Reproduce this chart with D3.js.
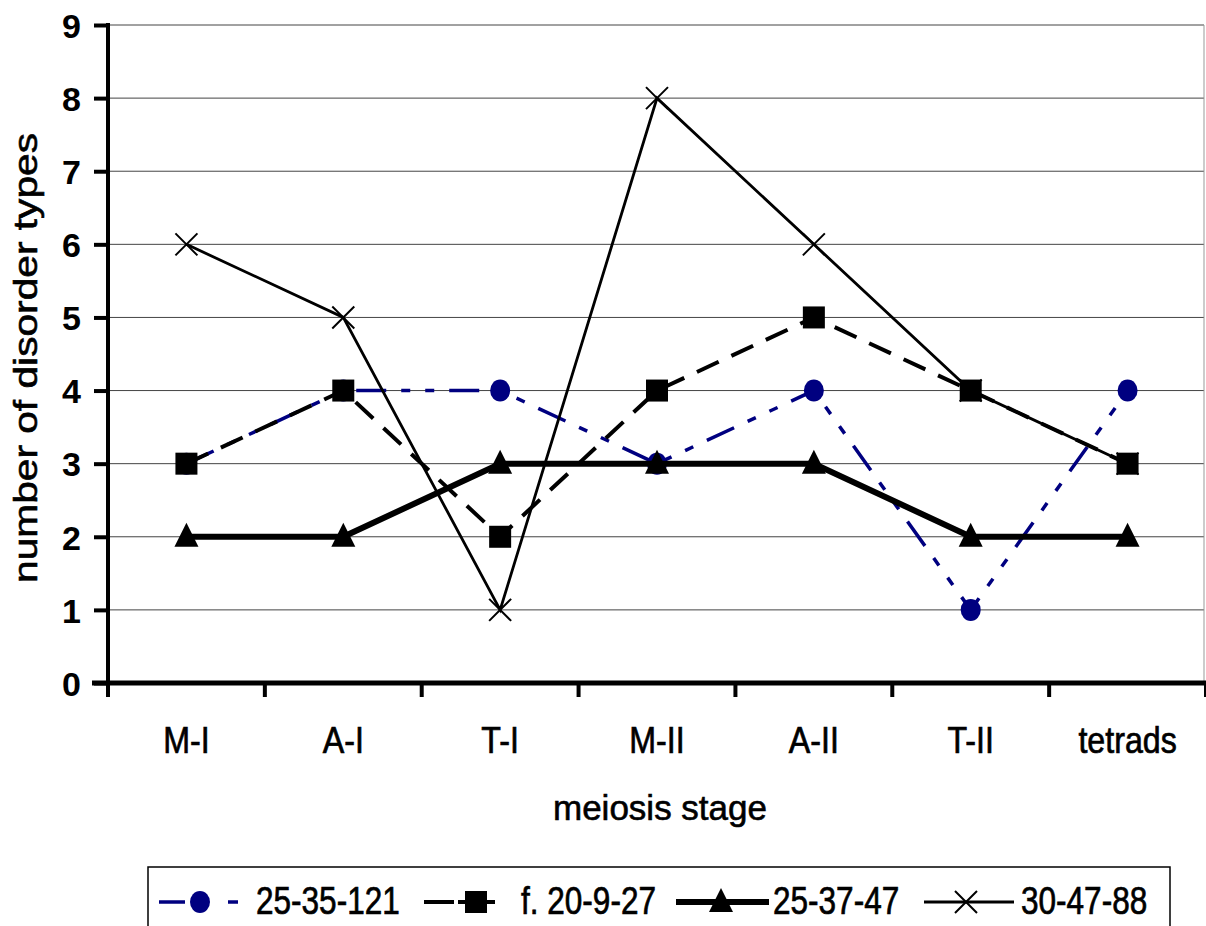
<!DOCTYPE html>
<html>
<head>
<meta charset="utf-8">
<script src="https://cdn.jsdelivr.net/npm/d3@7"></script>
<style>
body { margin: 0; background: #fff; }
</style>
</head>
<body>
<script>
var stages = ['M-I', 'A-I', 'T-I', 'M-II', 'A-II', 'T-II', 'tetrads'];
var s1 = [3, 4, 4, 3, 4, 1, 4];   // 25-35-121
var s2 = [3, 4, 2, 4, 5, 4, 3];   // f. 20-9-27
var s3 = [2, 2, 3, 3, 3, 2, 2];   // 25-37-47
var s4 = [6, 5, 1, 8, 6, 4, 3];   // 30-47-88
var names = ['25-35-121', 'f. 20-9-27', '25-37-47', '30-47-88'];
var yTicks = [0, 1, 2, 3, 4, 5, 6, 7, 8, 9];

var sans = '"Liberation Sans", Arial, sans-serif';

var svg = d3.select('body').append('svg')
  .attr('width', 1206)
  .attr('height', 926);

var pLeft = 108, pRight = 1206, pTop = 25, pBottom = 683;

var x = d3.scaleBand().domain(stages).range([pLeft, pRight]);
var y = d3.scaleLinear().domain([0, 9]).range([pBottom, pTop]);
var cx = function(i) { return x(stages[i]) + x.bandwidth() / 2; };

// gridlines
svg.append('g').selectAll('line').data(yTicks.slice(1)).enter().append('line')
  .attr('x1', pLeft).attr('x2', pRight - 2)
  .attr('y1', function(d) { return y(d); })
  .attr('y2', function(d) { return y(d); })
  .attr('stroke', '#444')
  .attr('stroke-width', 1);

svg.append('line')
  .attr('x1', pRight - 2).attr('x2', pRight - 2)
  .attr('y1', pTop).attr('y2', pBottom)
  .attr('stroke', '#999').attr('stroke-width', 1);

// axes
var yAxis = svg.append('g')
  .attr('transform', 'translate(' + pLeft + ',0)')
  .call(d3.axisLeft(y).tickValues(yTicks).tickSize(14).tickPadding(13).tickFormat(d3.format('d')));
yAxis.select('.domain').attr('stroke-width', 4).attr('d', 'M0,' + (pTop - 2) + 'V' + (pBottom + 2));
yAxis.selectAll('.tick line').attr('stroke-width', 4);
yAxis.selectAll('text').attr('font-family', sans).attr('font-weight', 'bold').attr('font-size', 34).attr('fill', '#000').attr('dy', '0.36em');

var xAxis = svg.append('g')
  .attr('transform', 'translate(0,' + pBottom + ')')
  .call(d3.axisBottom(x).tickSize(0).tickFormat(''));
xAxis.select('.domain').attr('stroke-width', 5).attr('d', 'M' + (pLeft - 16) + ',0H' + pRight);

// x labels, condensed like Arial Narrow
svg.append('g').selectAll('text').data(stages).enter().append('text')
  .attr('transform', function(d, i) { return 'translate(' + cx(i) + ',753) scale(0.87,1)'; })
  .attr('text-anchor', 'middle')
  .attr('font-family', sans).attr('font-size', 37)
  .attr('stroke', '#000').attr('stroke-width', 0.7)
  .text(function(d) { return d; });

// category boundary ticks
svg.append('g').selectAll('line').data(d3.range(stages.length + 1)).enter().append('line')
  .attr('x1', function(i) { return pLeft + i * x.bandwidth(); })
  .attr('x2', function(i) { return pLeft + i * x.bandwidth(); })
  .attr('y1', pBottom).attr('y2', pBottom + 14)
  .attr('stroke', '#000').attr('stroke-width', 4);

// axis titles
svg.append('text')
  .attr('transform', 'translate(37,358) rotate(-90)')
  .attr('text-anchor', 'middle')
  .attr('font-family', sans).attr('font-size', 34)
  .attr('stroke', '#000').attr('stroke-width', 0.6)
  .attr('textLength', 450).attr('lengthAdjust', 'spacingAndGlyphs')
  .text('number of disorder types');

svg.append('text')
  .attr('x', 660).attr('y', 820)
  .attr('text-anchor', 'middle')
  .attr('font-family', sans).attr('font-size', 35)
  .attr('stroke', '#000').attr('stroke-width', 0.6)
  .text('meiosis stage');

// series styles
var styles = [
  { data: s1, color: '#000080', width: 3.5, dash: '30,15,9,15,9,15', marker: 'circle' },
  { data: s2, color: '#000', width: 4, dash: '24,14', marker: 'square' },
  { data: s3, color: '#000', width: 6, dash: null, marker: 'triangle' },
  { data: s4, color: '#000', width: 2.8, dash: null, marker: 'cross' }
];

var line = d3.line()
  .x(function(d, i) { return cx(i); })
  .y(function(d) { return y(d); });

function drawMarker(g, type, px, py, color) {
  if (type == 'circle') {
    g.append('ellipse').attr('cx', px).attr('cy', py).attr('rx', 10).attr('ry', 11).attr('fill', color);
  } else if (type == 'square') {
    g.append('rect').attr('x', px - 11).attr('y', py - 11).attr('width', 22).attr('height', 22).attr('fill', color);
  } else if (type == 'triangle') {
    g.append('path').attr('d', 'M' + px + ',' + (py - 14) + 'L' + (px + 12) + ',' + (py + 10) + 'L' + (px - 12) + ',' + (py + 10) + 'Z').attr('fill', color);
  } else {
    g.append('path').attr('d', 'M' + (px - 11) + ',' + (py - 11) + 'L' + (px + 11) + ',' + (py + 11) + 'M' + (px + 11) + ',' + (py - 11) + 'L' + (px - 11) + ',' + (py + 11))
      .attr('stroke', color).attr('stroke-width', 2);
  }
}

styles.forEach(function(s) {
  var g = svg.append('g');
  g.append('path')
    .datum(s.data)
    .attr('d', line)
    .attr('fill', 'none')
    .attr('stroke', s.color)
    .attr('stroke-width', s.width)
    .attr('stroke-dasharray', s.dash);
  s.data.forEach(function(d, i) {
    drawMarker(g, s.marker, cx(i), y(d), s.color);
  });
});

// legend
svg.append('rect')
  .attr('x', 148).attr('y', 867)
  .attr('width', 1022).attr('height', 70)
  .attr('fill', '#fff').attr('stroke', '#000').attr('stroke-width', 1.5);

var legendX = [159, 424, 676, 924];
var legendW = [79, 71, 93, 90];
var legendM = [200, 476, 721, 966];
var legendT = [256, 521, 773, 1021];
var legendDash = ['26,43,10', '30,4,40', null, null];
styles.forEach(function(s, k) {
  var g = svg.append('g');
  var ly = 902;
  g.append('line')
    .attr('x1', legendX[k]).attr('x2', legendX[k] + legendW[k])
    .attr('y1', ly).attr('y2', ly)
    .attr('stroke', s.color).attr('stroke-width', s.width)
    .attr('stroke-dasharray', legendDash[k]);
  drawMarker(g, s.marker, legendM[k], ly, s.color);
  g.append('text')
    .attr('transform', 'translate(' + legendT[k] + ',914) scale(0.83,1)')
    .attr('font-family', sans).attr('font-size', 38)
    .attr('stroke', '#000').attr('stroke-width', 0.7)
    .text(names[k]);
});
</script>
</body>
</html>
